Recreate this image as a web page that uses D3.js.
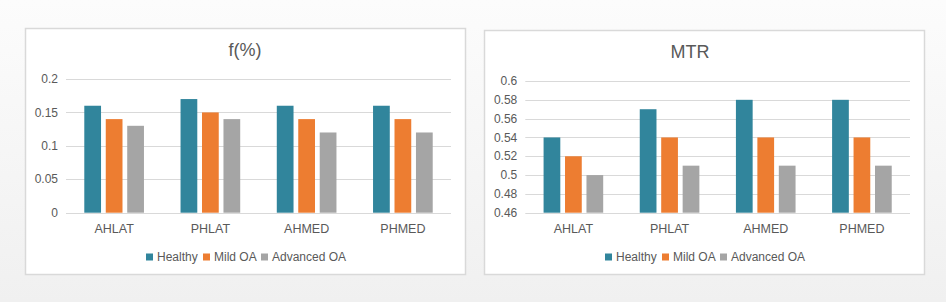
<!DOCTYPE html>
<html>
<head>
<meta charset="utf-8">
<script src="https://cdn.jsdelivr.net/npm/d3@7"></script>
<style>
body{margin:0;background:linear-gradient(#fcfcfc,#f0f0f0);width:946px;height:302px;overflow:hidden;}
svg{display:block;font-family:"Liberation Sans",Arial,sans-serif;}
</style>
</head>
<body>
<svg id="chart" width="946" height="302"></svg>
<script>
var categories = ["AHLAT", "PHLAT", "AHMED", "PHMED"];
var seriesNames = ["Healthy", "Mild OA", "Advanced OA"];
var colors = ["#31859c", "#ed7d31", "#a5a5a5"];

var fValues = {
  "Healthy":     [0.16, 0.17, 0.16, 0.16],
  "Mild OA":     [0.14, 0.15, 0.14, 0.14],
  "Advanced OA": [0.13, 0.14, 0.12, 0.12]
};
var fTicks = [0, 0.05, 0.1, 0.15, 0.2];

var mtrValues = {
  "Healthy":     [0.54, 0.57, 0.58, 0.58],
  "Mild OA":     [0.52, 0.54, 0.54, 0.54],
  "Advanced OA": [0.50, 0.51, 0.51, 0.51]
};
var mtrTicks = [0.46, 0.48, 0.5, 0.52, 0.54, 0.56, 0.58, 0.6];

var svg = d3.select("#chart");

/// one panel = box, title, grid, bars, x labels, legend
function panel(opt){
  var g = svg.append("g").attr("transform", "translate(" + opt.x + "," + opt.y + ")");

  g.append("rect")
    .attr("x", 0.5).attr("y", 0.5)
    .attr("width", opt.w).attr("height", opt.h)
    .attr("fill", "#fff").attr("stroke", "#d9d9d9").attr("stroke-width", 1.5);

  g.append("text")
    .attr("x", opt.titleX).attr("y", 28)
    .attr("text-anchor", "middle")
    .attr("font-size", 18).attr("fill", "#595959")
    .text(opt.title);

  var y = d3.scaleLinear().domain(opt.domain).range([opt.bottom, opt.top]);
  var x0 = d3.scaleBand().domain(categories)
    .range([opt.left, opt.right]).paddingInner(0.38).paddingOuter(0.19);
  var x1 = d3.scaleBand().domain(seriesNames)
    .range([0, x0.bandwidth()]).paddingInner(0.22);

  /// gridlines
  g.append("g").selectAll("line").data(opt.ticks).join("line")
    .attr("x1", opt.left).attr("x2", opt.right)
    .attr("y1", function(d){ return Math.round(y(d)) + 0.5; })
    .attr("y2", function(d){ return Math.round(y(d)) + 0.5; })
    .attr("stroke", "#d9d9d9");

  /// y tick labels
  g.append("g").selectAll("text").data(opt.ticks).join("text")
    .attr("x", opt.left - 8)
    .attr("y", function(d){ return y(d); })
    .attr("dy", "0.35em")
    .attr("text-anchor", "end")
    .attr("font-size", 12).attr("fill", "#595959")
    .text(function(d){ return String(+d.toFixed(2)); });

  /// bars
  var rows = [];
  categories.forEach(function(c, i){
    seriesNames.forEach(function(s, j){
      rows.push({cat: c, s: s, v: opt.values[s][i], col: colors[j]});
    });
  });
  g.append("g").selectAll("rect").data(rows).join("rect")
    .attr("x", function(d){ return x0(d.cat) + x1(d.s); })
    .attr("width", x1.bandwidth())
    .attr("y", function(d){ return y(d.v); })
    .attr("height", function(d){ return y(opt.domain[0]) - y(d.v); })
    .attr("fill", function(d){ return d.col; });

  /// x category labels
  g.append("g").selectAll("text").data(categories).join("text")
    .attr("x", function(d){ return x0(d) + x0.bandwidth() / 2; })
    .attr("y", opt.bottom + 16)
    .attr("dy", "0.35em")
    .attr("text-anchor", "middle")
    .attr("font-size", 12.5).attr("fill", "#595959")
    .text(function(d){ return d; });

  /// legend
  var lg = g.append("g").attr("transform", "translate(" + opt.legendX + "," + opt.legendY + ")");
  var offs = [0, 57, 115];
  seriesNames.forEach(function(s, j){
    lg.append("rect").attr("x", offs[j]).attr("y", -3.5)
      .attr("width", 7).attr("height", 7).attr("fill", colors[j]);
    lg.append("text").attr("x", offs[j] + 11).attr("y", 0).attr("dy", "0.35em")
      .attr("font-size", 12).attr("fill", "#595959").text(s);
  });
}

panel({
  x: 25, y: 28, w: 440, h: 246,
  title: "f(%)", titleX: 220,
  domain: [0, 0.2], ticks: fTicks, values: fValues,
  left: 41, right: 426, top: 51, bottom: 184.7,
  legendX: 121, legendY: 229
});

panel({
  x: 484, y: 30, w: 440, h: 244,
  title: "MTR", titleX: 206,
  domain: [0.46, 0.6], ticks: mtrTicks, values: mtrValues,
  left: 41.3, right: 426, top: 51, bottom: 182.7,
  legendX: 121, legendY: 227
});
</script>
</body>
</html>
